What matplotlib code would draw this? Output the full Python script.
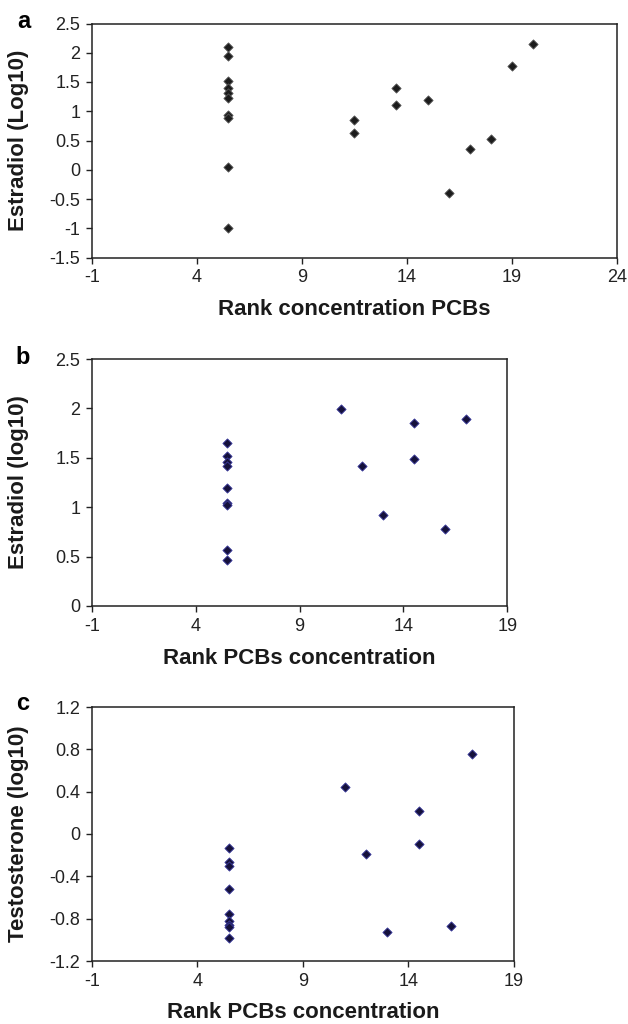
import numpy as np
import matplotlib.pyplot as plt

plt.rcParams['font.family'] = ['Liberation Sans', 'DejaVu Sans']
plt.rcParams['axes.unicode_minus'] = False

# panel a: estradiol vs rank concentration PCBs
a_x = [5.5] * 10 + [11.5, 11.5, 13.5, 13.5, 15, 16, 17, 18, 19, 20]
a_y = [2.10, 1.94, 1.51, 1.39, 1.31, 1.23, 0.93, 0.88, 0.05, -1.0,
       0.85, 0.62, 1.40, 1.11, 1.19, -0.40, 0.35, 0.53, 1.78, 2.15]
a_yticks = [-1.5, -1, -0.5, 0, 0.5, 1, 1.5, 2, 2.5]
a_ylabels = ['-1.5', '-1', '-0.5', '0', '0.5', '1', '1.5', '2', '2.5']

# panel b: estradiol vs rank PCBs concentration
b_x = [5.5] * 9 + [11, 12, 13, 14.5, 14.5, 16, 17]
b_y = [1.65, 1.52, 1.46, 1.42, 1.19, 1.04, 1.02, 0.57, 0.47,
       1.99, 1.42, 0.92, 1.85, 1.49, 0.78, 1.89]
b_yticks = [0, 0.5, 1, 1.5, 2, 2.5]
b_ylabels = ['0', '0.5', '1', '1.5', '2', '2.5']

# panel c: testosterone vs rank PCBs concentration
c_x = [5.5] * 9 + [11, 12, 13, 14.5, 14.5, 16, 17]
c_y = [-0.13, -0.26, -0.30, -0.52, -0.76, -0.82, -0.86, -0.88, -0.98,
       0.44, -0.19, -0.93, 0.22, -0.09, -0.87, 0.76]
c_yticks = [-1.2, -0.8, -0.4, 0, 0.4, 0.8, 1.2]
c_ylabels = ['-1.2', '-0.8', '-0.4', '0', '0.4', '0.8', '1.2']

W, H = 628, 1024
fig = plt.figure(figsize=(W / 100, H / 100), dpi=100)

panels = [
    # left, top, right, bottom (px), data, colours, limits, texts
    ((91.7, 23.5, 617, 257.5), a_x, a_y, '#1c1c1c', '#555555', (-1, 24), (-1.5, 2.5),
     a_yticks, a_ylabels, 'Estradiol (Log10)', 'Rank concentration PCBs', 'a', (24, 22)),
    ((91.7, 359, 507.3, 606), b_x, b_y, '#15113c', '#3b3b9e', (-1, 19), (0, 2.5),
     b_yticks, b_ylabels, 'Estradiol (log10)', 'Rank PCBs concentration', 'b', (23, 357)),
    ((91.7, 707, 514, 961), c_x, c_y, '#15113c', '#3b3b9e', (-1, 19), (-1.2, 1.2),
     c_yticks, c_ylabels, 'Testosterone (log10)', 'Rank PCBs concentration', 'c', (23, 703)),
]

for (l, t, r, b), xs, ys, fc, ec, xl, yl, yt, ytl, ylab, xlab, letter, lpos in panels:
    ax = fig.add_axes([l / W, 1 - b / H, (r - l) / W, (b - t) / H])
    ax.scatter(xs, ys, marker='D', s=22, facecolor=fc, edgecolor=ec, linewidth=0.6, zorder=3)
    ax.set_xlim(*xl)
    ax.set_ylim(*yl)
    ax.set_xticks(np.arange(xl[0], xl[1] + 0.1, 5))
    ax.set_yticks(yt)
    ax.set_yticklabels(ytl)
    ax.tick_params(direction='out', length=4.3, width=1, labelsize=13, pad=4,
                   color='#222222', labelcolor='#222222')
    for s in ax.spines.values():
        s.set_linewidth(1.1)
        s.set_color('#222222')
    ax.set_ylabel(ylab, fontsize=16, fontweight='bold', color='#1a1a1a', va='center')
    ax.yaxis.set_label_coords((19 - l) / (r - l), 0.5)
    ax.set_xlabel(xlab, fontsize=16, fontweight='bold', color='#1a1a1a', va='center')
    ax.xaxis.set_label_coords(0.5, -52 / (b - t))
    fig.text(lpos[0] / W, 1 - lpos[1] / H, letter, fontsize=17, fontweight='bold',
             ha='center', va='center')

fig.savefig('out.png', dpi=100)
